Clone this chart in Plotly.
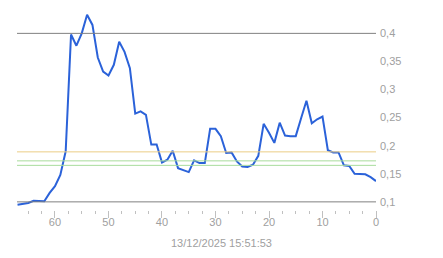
import plotly.graph_objects as go

x_vals = list(range(67, -1, -1))
y_vals = [0.095, 0.097, 0.098, 0.102, 0.101, 0.101, 0.116, 0.128, 0.148, 0.190,
          0.398, 0.378, 0.400, 0.433, 0.415, 0.357, 0.332, 0.325, 0.344, 0.385,
          0.367, 0.338, 0.257, 0.261, 0.255, 0.202, 0.202, 0.170, 0.175, 0.191,
          0.160, 0.157, 0.153, 0.174, 0.169, 0.169, 0.230, 0.230, 0.217, 0.187,
          0.188, 0.172, 0.163, 0.162, 0.166, 0.182, 0.239, 0.223, 0.205, 0.241,
          0.218, 0.217, 0.217, 0.249, 0.280, 0.240, 0.247, 0.252, 0.192, 0.188,
          0.188, 0.165, 0.164, 0.150, 0.150, 0.149, 0.144, 0.137]

ref_levels = [0.4, 0.1, 0.189, 0.173, 0.165]
ref_colors = ["#808080", "#808080", "#ebcd86", "#a8dc9c", "#a8dc9c"]

y_ticks = [0.1, 0.15, 0.2, 0.25, 0.3, 0.35, 0.4]
x_ticks = [60, 50, 40, 30, 20, 10, 0]
x_title = "13/12/2025 15:51:53"

fig = go.Figure()
for lvl, col in zip(ref_levels, ref_colors):
    fig.add_shape(type="line", xref="paper", x0=0, x1=1, yref="y", y0=lvl, y1=lvl,
                  line=dict(color=col, width=1))

fig.add_trace(go.Scatter(x=x_vals, y=y_vals, mode="lines",
                         line=dict(color="#2b62d9", width=2), hoverinfo="skip"))

fig.update_layout(
    width=443, height=258,
    margin=dict(l=17, r=67, t=10, b=48),
    paper_bgcolor="white", plot_bgcolor="white",
    showlegend=False,
    separators=",.",
    font=dict(family="Liberation Sans, Arial, sans-serif", size=11, color="#a0a0a0"),
    xaxis=dict(range=[67.1, 0], tickvals=x_ticks, ticks="outside", ticklen=7,
               tickcolor="#c0c0c0", tickwidth=1, showgrid=False, zeroline=False,
               showline=False, tickfont=dict(size=11, color="#a0a0a0"),
               ticklabelstandoff=-5,
               minor=dict(dtick=2.5, tick0=0, ticks="outside", ticklen=3,
                          tickcolor="#c0c0c0", showgrid=False)),
    yaxis=dict(range=[0.0855, 0.4416], side="right", tickvals=y_ticks,
               ticktext=[str(v).replace(".", ",") for v in y_ticks],
               showgrid=False, zeroline=False, showline=False, ticks="",
               tickfont=dict(size=11, color="#a0a0a0"), ticklabelstandoff=3),
    annotations=[dict(text=x_title, xref="paper", yref="paper",
                      x=(221.5 - 17) / 359, y=0, yshift=-33, showarrow=False,
                      xanchor="center", yanchor="middle",
                      font=dict(size=11, color="#a0a0a0"))],
)

fig.write_html("out.html")
